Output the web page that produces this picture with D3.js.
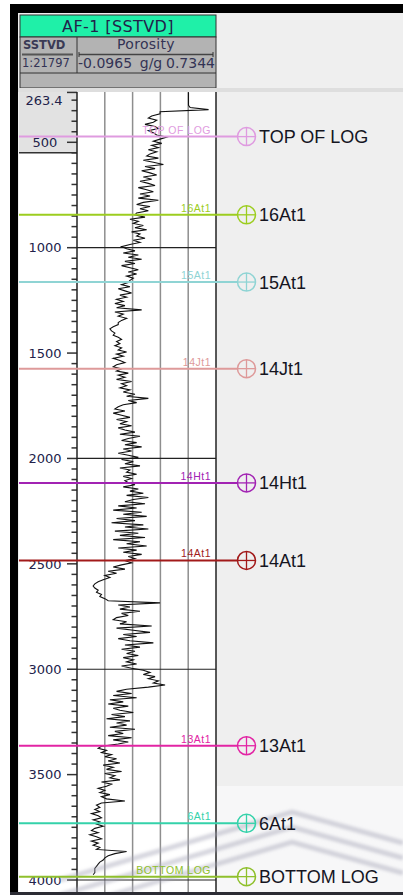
<!DOCTYPE html>
<html>
<head>
<meta charset="utf-8">
<script src="https://cdn.jsdelivr.net/npm/d3@7"></script>
<style>
  html, body { margin: 0; padding: 0; background: #fff; }
  svg { display: block; }
</style>
</head>
<body>
<div id="chart"></div>
<script>
// well header
const wellTitle = "AF-1 [SSTVD]";
const depthTrackName = "SSTVD";
const depthScaleText = "1:21797";
const curveName = "Porosity";
const curveUnit = "g/g";
const curveMin = -0.0965;
const curveMax = 0.7344;

// depth axis
const depthTop = 263.4;
const depthLabels = [500, 1000, 1500, 2000, 2500, 3000, 3500, 4000];

// porosity log, sampled every 10 m from 265 m
const porosityStart = 265;
const porosityStep = 10;
const porosity = [
  0.57, 0.57, 0.57, 0.57, 0.57, 0.57, 0.57, 0.58, 0.69, 0.40,
  0.40, 0.35, 0.33, 0.38, 0.36, 0.31, 0.37, 0.39, 0.33, 0.36,
  0.38, 0.44, 0.40, 0.36, 0.41, 0.35, 0.39, 0.33, 0.38, 0.34,
  0.32, 0.39, 0.30, 0.36, 0.42, 0.31, 0.37, 0.29, 0.34, 0.38,
  0.30, 0.35, 0.28, 0.33, 0.37, 0.27, 0.32, 0.36, 0.28, 0.34,
  0.27, 0.39, 0.30, 0.26, 0.34, 0.28, 0.33, 0.26, 0.25, 0.31,
  0.22, 0.27, 0.24, 0.30, 0.25, 0.32, 0.23, 0.28, 0.26, 0.31,
  0.24, 0.28, 0.22, 0.17, 0.20, 0.25, 0.18, 0.27, 0.21, 0.29,
  0.19, 0.25, 0.17, 0.22, 0.27, 0.21, 0.26, 0.20, 0.24, 0.22,
  0.21, 0.17, 0.22, 0.15, 0.19, 0.23, 0.16, 0.20, 0.14, 0.18,
  0.13, 0.19, 0.14, 0.29, 0.13, 0.18, 0.15, 0.20, 0.17, 0.15,
  0.15, 0.12, 0.10, 0.11, 0.13, 0.12, 0.15, 0.17, 0.14, 0.16,
  0.13, 0.17, 0.15, 0.20, 0.14, 0.18, 0.12, 0.16, 0.19, 0.14,
  0.12, 0.17, 0.14, 0.21, 0.15, 0.19, 0.14, 0.23, 0.17, 0.20,
  0.16, 0.22, 0.18, 0.25, 0.20, 0.33, 0.21, 0.26, 0.18, 0.15,
  0.13, 0.19, 0.12, 0.17, 0.22, 0.14, 0.20, 0.16, 0.23, 0.15,
  0.19, 0.25, 0.16, 0.28, 0.21, 0.17, 0.26, 0.19, 0.29, 0.18,
  0.23, 0.15, 0.21, 0.27, 0.17, 0.24, 0.19, 0.28, 0.16, 0.22,
  0.20, 0.26, 0.18, 0.23, 0.19, 0.21, 0.25, 0.18, 0.27, 0.22,
  0.30, 0.20, 0.33, 0.24, 0.19, 0.31, 0.15, 0.26, 0.12, 0.29,
  0.18, 0.32, 0.14, 0.25, 0.11, 0.30, 0.19, 0.33, 0.13, 0.27,
  0.16, 0.31, 0.12, 0.28, 0.20, 0.32, 0.15, 0.26, 0.18, 0.29,
  0.21, 0.25, 0.19, 0.23, 0.17, 0.12, 0.19, 0.09, 0.14, 0.07,
  0.10, 0.06, 0.03, 0.01, 0.00, 0.01, 0.03, 0.02, 0.05, 0.04,
  0.07, 0.09, 0.40, 0.15, 0.22, 0.16, 0.28, 0.17, 0.21, 0.14,
  0.12, 0.20, 0.16, 0.35, 0.14, 0.24, 0.34, 0.18, 0.26, 0.15,
  0.22, 0.36, 0.19, 0.28, 0.17, 0.25, 0.20, 0.27, 0.18, 0.24,
  0.20, 0.26, 0.17, 0.23, 0.30, 0.34, 0.30, 0.37, 0.33, 0.39,
  0.36, 0.43, 0.33, 0.20, 0.14, 0.23, 0.12, 0.26, 0.10, 0.18,
  0.09, 0.21, 0.12, 0.16, 0.24, 0.11, 0.19, 0.08, 0.22, 0.14,
  0.20, 0.10, 0.25, 0.13, 0.18, 0.09, 0.23, 0.12, 0.21, 0.15,
  0.05, 0.03, 0.08, 0.05, 0.11, 0.07, 0.14, 0.09, 0.16, 0.06,
  0.12, 0.08, 0.17, 0.07, 0.13, 0.10, 0.16, 0.05, 0.11, 0.08,
  0.03, 0.07, 0.04, 0.10, 0.05, 0.08, 0.19, 0.05, 0.02, 0.04,
  0.01, 0.04, -0.01, 0.03, 0.05, 0.00, 0.04, 0.02, 0.06, 0.01,
  -0.01, 0.03, -0.02, 0.02, 0.05, -0.01, 0.03, 0.00, 0.04, 0.02,
  0.20, 0.13, 0.09, 0.07, 0.06, 0.04, 0.03, 0.02, 0.01, 0.01,
  0.01, 0.00,
];

// well tops
const markerNames = ["TOP OF LOG", "16At1", "15At1", "14Jt1", "14Ht1", "14At1", "13At1", "6At1", "BOTTOM LOG"];
const markerDepths = [473, 844, 1163, 1574, 2116, 2484, 3363, 3731, 3984];
const markerColors = ["#df9be0", "#9ccd1f", "#8fd4d4", "#de9a9a", "#a223b3", "#a21a1a", "#e224a4", "#34d2aa", "#8fc02c"];

const width = 403;
const height = 895;

const depthLeft = 19;
const trackLeft = 77;
const trackRight = 216;
const trackTop = 92;
const headerFont = "'DejaVu Sans', Verdana, sans-serif";
const labelFont = "'Liberation Sans', Arial, sans-serif";
const textColor = "#22224a";

const y = d3.scaleLinear().domain([500, 4000]).range([142.3, 880]);
const x = d3.scaleLinear().domain([curveMin, curveMax]).range([trackLeft, trackRight]);

const svg = d3
  .select("#chart")
  .append("svg")
  .attr("width", width)
  .attr("height", height);

// frame
svg.append("rect").attr("x", 10).attr("y", 4).attr("width", width - 10).attr("height", height - 4).attr("fill", "#efefef");
svg.append("rect").attr("x", 10).attr("y", 4).attr("width", width - 10).attr("height", 9).attr("fill", "#000");
svg.append("rect").attr("x", 10).attr("y", 4).attr("width", 8).attr("height", height - 4).attr("fill", "#000");
svg.append("rect").attr("x", 216).attr("y", 786).attr("width", width - 216).attr("height", 106).attr("fill", "#f7f7f8");

// header
const header = svg.append("g");
header.append("rect").attr("x", 20).attr("y", 15).attr("width", 196).attr("height", 22)
  .attr("fill", "#1ff0a8").attr("stroke", "#333").attr("stroke-width", 1);
header.append("text").attr("x", 118).attr("y", 31.5).attr("text-anchor", "middle")
  .attr("font-family", headerFont).attr("font-size", 16).attr("letter-spacing", 0.4)
  .attr("fill", textColor).text(wellTitle);
header.append("rect").attr("x", 20).attr("y", 37).attr("width", 196).attr("height", 51)
  .attr("fill", "#b3b3b3").attr("stroke", "#333").attr("stroke-width", 1);
header.append("line").attr("x1", 20).attr("x2", 216).attr("y1", 73).attr("y2", 73).attr("stroke", "#333");
header.append("line").attr("x1", trackLeft).attr("x2", trackLeft).attr("y1", 37).attr("y2", 73).attr("stroke", "#333");
header.append("text").attr("x", 23).attr("y", 49).attr("font-family", headerFont).attr("font-size", 11.5)
  .attr("font-weight", "bold").attr("fill", "#3a3a55").text(depthTrackName);
header.append("line").attr("x1", 22).attr("x2", 73).attr("y1", 54.5).attr("y2", 54.5).attr("stroke", "#555").attr("stroke-width", 2);
header.append("text").attr("x", 22).attr("y", 66.5).attr("font-family", headerFont).attr("font-size", 11.5)
  .attr("fill", "#333355").text(depthScaleText);
header.append("text").attr("x", 146).attr("y", 49).attr("text-anchor", "middle").attr("font-family", headerFont)
  .attr("font-size", 14).attr("fill", "#333355").attr("letter-spacing", 0.3).text(curveName);
header.append("line").attr("x1", 79).attr("x2", 213).attr("y1", 54.5).attr("y2", 54.5).attr("stroke", "#444").attr("stroke-width", 1.5);
header.selectAll(".end-tick").data([79, 213]).join("line").attr("class", "end-tick")
  .attr("x1", (d) => d).attr("x2", (d) => d).attr("y1", 52).attr("y2", 57).attr("stroke", "#333");
const rangeText = header.append("g").attr("font-family", headerFont).attr("font-size", 14).attr("fill", "#333355");
rangeText.append("text").attr("x", 78).attr("y", 67.5).text(curveMin.toFixed(4));
rangeText.append("text").attr("x", 151).attr("y", 67.5).attr("text-anchor", "middle").text(curveUnit);
rangeText.append("text").attr("x", 215).attr("y", 67.5).attr("text-anchor", "end").text(curveMax.toFixed(4));
svg.append("rect").attr("x", 18).attr("y", 88).attr("width", width - 18).attr("height", 4).attr("fill", "#dedede");

// tracks
const tracks = svg.append("g");
tracks.append("rect").attr("x", depthLeft).attr("y", trackTop).attr("width", trackRight - depthLeft)
  .attr("height", height - trackTop).attr("fill", "#fff");
tracks.append("rect").attr("x", depthLeft).attr("y", trackTop).attr("width", trackLeft - depthLeft)
  .attr("height", y(550) - trackTop).attr("fill", "#e2e2e2");
tracks.append("line").attr("x1", depthLeft).attr("x2", trackLeft).attr("y1", y(550)).attr("y2", y(550))
  .attr("stroke", "#333").attr("stroke-width", 1.5);

// watermark
const defs = svg.append("defs");
defs.append("filter").attr("id", "soft").append("feGaussianBlur").attr("stdDeviation", 1.6);
defs.append("clipPath").attr("id", "wm-clip").append("rect").attr("x", depthLeft).attr("y", 786)
  .attr("width", width - depthLeft).attr("height", 106);
const watermark = svg.append("g").attr("clip-path", "url(#wm-clip)").attr("filter", "url(#soft)")
  .attr("fill", "none").attr("stroke", "#a6a6b8").attr("stroke-opacity", 0.45).attr("stroke-width", 5);
[0, 15, 30].forEach((dy) => {
  watermark.append("path").attr("d", d3.line()([[60, 880 + dy], [292, 812 + dy], [403, 843 + dy]]));
});

// porosity grid
const gridValues = d3.range(1, 5).map((i) => curveMin + ((curveMax - curveMin) * i) / 5);
tracks.selectAll(".vgrid").data(gridValues).join("line").attr("class", "vgrid")
  .attr("x1", (d) => x(d)).attr("x2", (d) => x(d)).attr("y1", trackTop).attr("y2", height)
  .attr("stroke", "#8e8e8e").attr("stroke-width", 1.5);
tracks.selectAll(".hgrid").data(depthLabels.filter((d) => d % 1000 === 0)).join("line").attr("class", "hgrid")
  .attr("x1", trackLeft).attr("x2", trackRight).attr("y1", (d) => y(d)).attr("y2", (d) => y(d))
  .attr("stroke", "#222").attr("stroke-width", 1.2);

// depth ticks
const minorTicks = d3.range(300, 4001, 50);
tracks.selectAll(".tick").data(minorTicks).join("line").attr("class", "tick")
  .attr("x1", (d) => (d % 500 === 0 ? 67 : 71.5)).attr("x2", trackLeft)
  .attr("y1", (d) => y(d)).attr("y2", (d) => y(d)).attr("stroke", "#333").attr("stroke-width", 1.5);
tracks.append("line").attr("x1", 67).attr("x2", trackLeft).attr("y1", y(depthTop)).attr("y2", y(depthTop))
  .attr("stroke", "#333").attr("stroke-width", 1.5);
const depthText = tracks.append("g").attr("font-family", headerFont).attr("font-size", 13)
  .attr("fill", textColor).attr("text-anchor", "middle");
depthText.append("text").attr("x", 44).attr("y", y(depthTop) + 13).text(depthTop);
depthText.selectAll(".depth-label").data(depthLabels).join("text").attr("class", "depth-label")
  .attr("x", 45).attr("y", (d) => y(d)).attr("dy", "0.36em").text((d) => d);

// curve
defs.append("clipPath").attr("id", "track-clip").append("rect").attr("x", trackLeft).attr("y", trackTop)
  .attr("width", trackRight - trackLeft).attr("height", height - trackTop);
const logData = porosity.map((v, i) => ({ depth: porosityStart + i * porosityStep, v }));
const line = d3.line().x((d) => x(d.v)).y((d) => y(d.depth));
tracks.append("line").attr("x1", x(logData[0].v)).attr("x2", x(logData[0].v))
  .attr("y1", trackTop).attr("y2", y(logData[0].depth)).attr("stroke", "#111");
tracks.append("path").datum(logData).attr("clip-path", "url(#track-clip)")
  .attr("fill", "none").attr("stroke", "#111").attr("stroke-width", 1.1).attr("d", line);

// borders
tracks.selectAll(".border").data([trackLeft, trackRight]).join("line").attr("class", "border")
  .attr("x1", (d) => d).attr("x2", (d) => d).attr("y1", trackTop).attr("y2", height)
  .attr("stroke", "#222").attr("stroke-width", 1.5);

// well tops
const markers = markerNames.map((name, i) => ({ name, depth: markerDepths[i], color: markerColors[i] }));
const cx = 246.5;
const r = 9;
const markerG = svg.selectAll(".marker").data(markers).join("g").attr("class", "marker")
  .attr("transform", (d) => `translate(0,${y(d.depth)})`);
markerG.append("line").attr("x1", depthLeft).attr("x2", cx - r).attr("stroke", (d) => d.color).attr("stroke-width", 2);
markerG.append("circle").attr("cx", cx).attr("r", r).attr("fill", "none").attr("stroke", (d) => d.color).attr("stroke-width", 1.5);
markerG.append("line").attr("x1", cx - r).attr("x2", cx + r).attr("stroke", (d) => d.color).attr("stroke-width", 1.3);
markerG.append("line").attr("x1", cx).attr("x2", cx).attr("y1", -r).attr("y2", r).attr("stroke", (d) => d.color).attr("stroke-width", 1.3);
markerG.append("text").attr("x", 259).attr("dy", "0.36em").attr("font-family", labelFont).attr("font-size", 18)
  .attr("fill", "#15151f").text((d) => d.name);
markerG.append("text").attr("x", 211).attr("y", -3).attr("text-anchor", "end").attr("font-family", labelFont)
  .attr("font-size", 10.5).attr("letter-spacing", 0.5).attr("fill", (d) => d.color).text((d) => d.name);

svg.append("rect").attr("x", 10).attr("y", 892).attr("width", width - 10).attr("height", 3).attr("fill", "#2c2c34");
</script>
</body>
</html>
